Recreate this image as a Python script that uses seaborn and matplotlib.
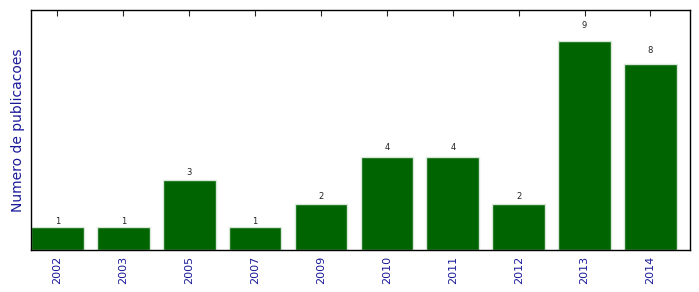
import matplotlib
matplotlib.use("Agg")
import matplotlib.pyplot as plt
import seaborn as sns
import pandas as pd

years = ["2002", "2003", "2005", "2007", "2009", "2010", "2011", "2012", "2013", "2014"]
counts = [1, 1, 3, 1, 2, 4, 4, 2, 9, 8]

sns.set_style("ticks")
plt.rcParams['font.family'] = ['DejaVu Sans']

df = pd.DataFrame({"ano": years, "n": counts})

fig = plt.figure(figsize=(6.99, 2.92), dpi=100)
ax = fig.add_axes([31/699, 1-250/292, (690-31)/699, (250-10)/292])
sns.barplot(data=df, x="ano", y="n", ax=ax, color="#006400", saturation=1,
            width=0.8, edgecolor="#d8e8d8", linewidth=1)

for i, v in enumerate(counts):
    ax.text(i, 1.05*v, str(v), ha="center", va="bottom", fontsize=6, color="#222222")

ax.set_xlim(-0.4, len(years) - 0.4)
ax.set_ylim(0, 10.33)
ax.set_yticks([])
ax.set_xlabel("")
ax.set_ylabel("Numero de publicacoes", fontsize=10, color="#1a1a9a")
ax.tick_params(axis="x", direction="in", top=True, bottom=True, length=4,
               labelsize=8, labelcolor="#1a1a9a", rotation=90, pad=4)
for s in ax.spines.values():
    s.set_visible(True)
    s.set_color("black")
    s.set_linewidth(1)

fig.savefig("out.png", dpi=100)
